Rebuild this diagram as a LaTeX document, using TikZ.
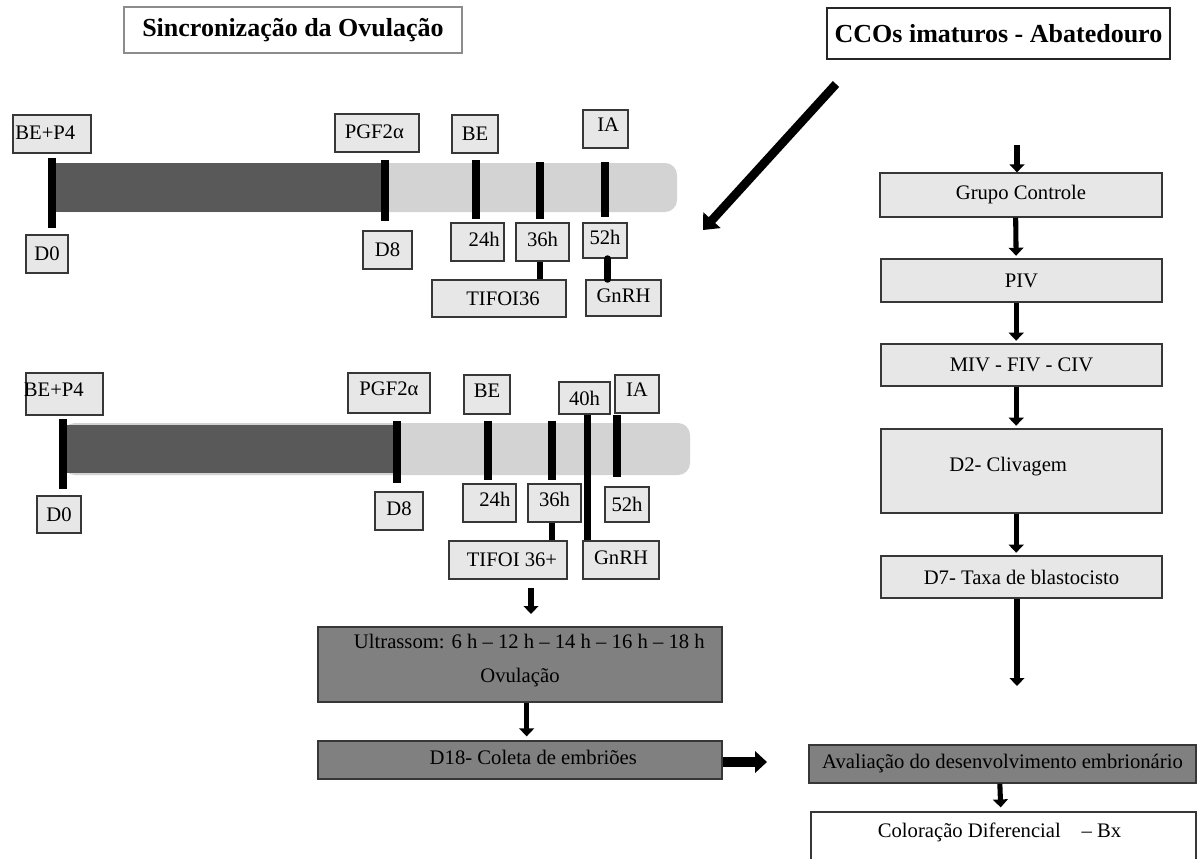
\documentclass[tikz,border=0pt]{standalone}
\usepackage{fontspec}
\setmainfont{Liberation Serif}
\usetikzlibrary{arrows.meta,fit}
\definecolor{boxgray}{RGB}{231,231,231}
\definecolor{bardark}{RGB}{89,89,89}
\definecolor{barlight}{RGB}{211,211,211}
\definecolor{dkbox}{RGB}{128,128,128}
\definecolor{edgec}{RGB}{55,55,55}
\begin{document}
\begin{tikzpicture}[x=0.75pt,y=-0.75pt,
 lbf/.style={font=\fontsize{15.5}{18}\selectfont, inner sep=0pt, align=center},
 tbf/.style={font=\bfseries\fontsize{19.5}{23}\selectfont, inner sep=0pt},
 lb/.style={draw=edgec, fill=boxgray, line width=0.9pt, inner sep=0pt},
 dkb/.style={lb, fill=dkbox},
 ttl/.style={draw, fill=white, line width=0.9pt, inner sep=0pt},
 tx/.style={label={[lbf]center:#1}},
 tick/.style={line width=5.5pt},
 conn/.style={line width=5pt},
 arr/.style={line width=3.8pt, -{Triangle[length=6pt,width=11pt]}},
 bigarr/.style={line width=6.5pt, -{Triangle[length=10pt,width=17pt]}},
]
\useasboundingbox (0,0) rectangle (1197,858);
\fill[white] (0,0) rectangle (1197,858);

% titles
\node[ttl, draw=black!45, fit={(124,7)(462,53)}, label={[tbf]center:Sincronização da Ovulação}] (t1) {};
\node[ttl, draw=black!85, fit={(827,8)(1170,59)}, label={[tbf]center:CCOs imaturos - Abatedouro}] (t2) {};

% diagonal arrow
\coordinate (da) at (836,84);
\coordinate (db) at (703,230);
\draw[bigarr] (da) -- (db);

% ---------- timeline 1 ----------
\fill[barlight, rounded corners=9pt] (50,163) rectangle (677,212);
\fill[bardark] (52,163) rectangle (385,212);
\draw[tick] (52,158) -- (52,228);
\draw[tick] (385,160) -- (385,221);
\draw[tick] (476,160) -- (476,219);
\draw[tick] (540,162) -- (540,219);
\draw[tick] (605,162) -- (605,217);

\node[lb, fit={(13,115)(91,153)}, label={[lbf,xshift=-5pt,yshift=1pt]center:BE+P4}] (a1) {};
\node[lb, fit={(26,235)(68,273)}, tx=D0] (a2) {};
\node[lb, fit={(335,114)(419,152)}, label={[lbf,xshift=-2pt,yshift=1pt]center:PGF2α}] (a3) {};
\node[lb, fit={(363,231)(412,269)}, tx=D8] (a4) {};
\node[lb, fit={(452,115)(498,153)}, tx=BE] (a5) {};
\node[lb, fit={(583,110)(628,148)}, label={[lbf,xshift=2pt,yshift=3pt]center:IA}] (a6) {};
\node[lb, fit={(451,223)(504,261)}, label={[lbf,xshift=5pt,yshift=2pt]center:24h}] (a7) {};
\node[lb, fit={(516,223)(569,261)}, label={[lbf,yshift=2pt]center:36h}] (a8) {};
\node[lb, fit={(583,223)(627,258)}, label={[lbf,yshift=2pt]center:52h}] (a9) {};
\node[lb, fit={(432,280)(566,317)}, label={[lbf,xshift=3pt]center:TIFOI36}] (a10) {};
\node[lb, fit={(586,280)(661,316)}, label={[lbf,yshift=2pt]center:GnRH}] (a11) {};
\draw[conn] ([xshift=-2pt]a8.south) -- ([xshift=-2pt]a8.south |- a10.north);
\draw[conn, line cap=round] ([xshift=2pt]a9.south) -- ([xshift=2pt]a9.south |- a11.north);

% ---------- timeline 2 ----------
\fill[barlight, rounded corners=9pt] (63,423) rectangle (690,475);
\fill[bardark] (63,425) rectangle (397,473);
\draw[tick] (63,419) -- (63,489);
\draw[tick] (397,421) -- (397,483);
\draw[tick] (488,421) -- (488,480);
\draw[tick] (552,421) -- (552,480);
\draw[tick] (617,415) -- (617,477);

\node[lb, fit={(26,373)(103,415)}, label={[lbf,xshift=-8pt,yshift=3pt]center:BE+P4}] (b1) {};
\node[lb, fit={(37,496)(81,533)}, tx=D0] (b2) {};
\node[lb, fit={(348,373)(430,413)}, label={[lbf,yshift=3pt]center:PGF2α}] (b3) {};
\node[lb, fit={(375,492)(423,530)}, label={[lbf,yshift=2pt]center:D8}] (b4) {};
\node[lb, fit={(464,375)(510,414)}, label={[lbf,yshift=3pt]center:BE}] (b5) {};
\node[lb, fit={(559,382)(610,414)}, tx=40h] (b6) {};
\node[lb, fit={(615,375)(659,413)}, label={[lbf,yshift=3pt]center:IA}] (b7) {};
\node[lb, fit={(463,484)(516,522)}, label={[lbf,xshift=4pt,yshift=3pt]center:24h}] (b8) {};
\node[lb, fit={(528,484)(581,522)}, label={[lbf,yshift=3pt]center:36h}] (b9) {};
\node[lb, fit={(605,487)(649,522)}, tx=52h] (b10) {};
\node[lb, fit={(449,541)(567,579)}, label={[lbf,xshift=3pt]center:TIFOI 36+}] (b11) {};
\node[lb, fit={(583,541)(659,579)}, label={[lbf,yshift=2pt]center:GnRH}] (b12) {};
\draw[conn] ([xshift=-2pt]b9.south) -- ([xshift=-2pt]b9.south |- b11.north);
\draw[conn] ([xshift=2pt]b6.south) -- ([xshift=2pt]b6.south |- b12.north);

% ---------- lower left flow ----------
\coordinate (u0) at (531,588);
\coordinate (u1) at (531,614);
\draw[arr] (u0) -- (u1);
\node[dkb, fit={(318,627)(722,702)}, label={[lbf,yshift=3pt]center:\hspace{14pt}Ultrassom: 6 h – 12 h – 14 h – 16 h – 18 h\\[8pt]Ovulação}] (us) {};
\node[dkb, fit={(318,741)(722,779)}, label={[lbf,xshift=10pt,yshift=2pt]center:D18- Coleta de embriões}] (d18) {};
\draw[arr, shorten >=3pt] ([xshift=5pt]us.south) -- ([xshift=5pt]d18.north);
\coordinate (rr) at (767,762);
\draw[line width=7pt, -{Triangle[length=9pt,width=16pt]}] (d18.east |- rr) -- (rr);

% ---------- right column ----------
\node[lb, fit={(880,173)(1162,217)}, tx=Grupo Controle] (g1) {};
\node[lb, fit={(881,259)(1162,302)}, tx=PIV] (g2) {};
\node[lb, fit={(881,344)(1162,386)}, tx=MIV - FIV - CIV] (g3) {};
\node[lb, fit={(881,429)(1162,513)}, label={[lbf,xshift=-10pt,yshift=3pt]center:D2- Clivagem}] (g4) {};
\node[lb, fit={(881,556)(1162,598)}, tx=D7- Taxa de blastocisto] (g5) {};
\coordinate (r0) at (1017,145);
\draw[arr] (r0) -- (r0 |- g1.north);
\draw[arr, shorten >=2pt] ([xshift=-4pt]g1.south) -- ([xshift=-4pt]g2.north);
\draw[arr, shorten >=2pt] ([xshift=-4pt]g2.south) -- ([xshift=-4pt]g3.north);
\draw[arr, shorten >=2pt] ([xshift=-4pt]g3.south) -- ([xshift=-4pt]g4.north);
\draw[arr, shorten >=2pt] ([xshift=-4pt]g4.south) -- ([xshift=-4pt]g5.north);
\coordinate (r1) at (1017,686);
\draw[arr] (r1 |- g5.south) -- (r1);

\node[dkb, fit={(809,745)(1196,783)}, tx=Avaliação do desenvolvimento embrionário] (av) {};
\node[lb, fill=white, fit={(811,812)(1196,866)}, label={[lbf,xshift=-3pt,yshift=5pt]center:Coloração Diferencial\quad – Bx}] (col) {};
\draw[arr, shorten >=3pt] ([xshift=-2pt]av.south) -- ([xshift=-2pt]col.north);
\end{tikzpicture}
\end{document}
